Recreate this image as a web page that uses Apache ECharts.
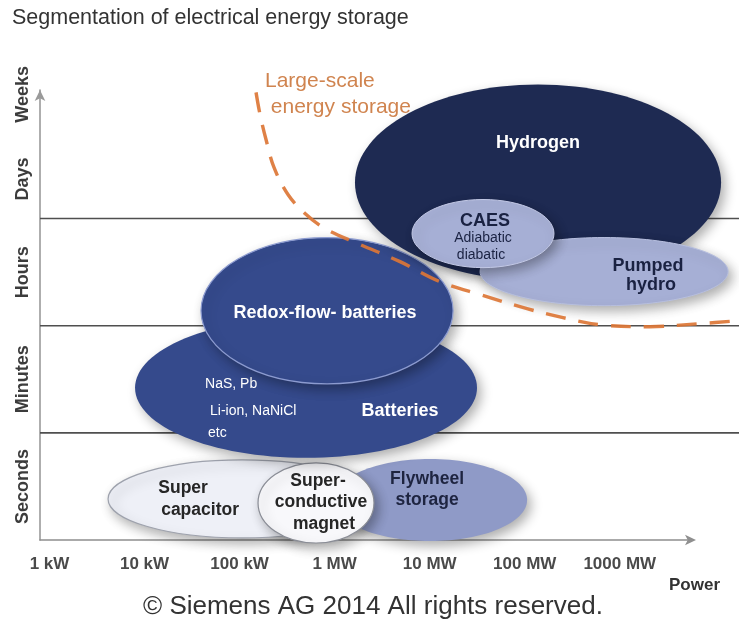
<!DOCTYPE html>
<html>
<head>
<meta charset="utf-8">
<script src="https://cdn.jsdelivr.net/npm/echarts@6/dist/echarts.min.js"></script>
<style>
  html, body { margin: 0; padding: 0; background: #ffffff; }
  #chart { width: 739px; height: 623px; }
</style>
</head>
<body>
<div id="chart"></div>
<script>
// Power axis: decades of log10(kW)
const powerTicks = [0, 1, 2, 3, 4, 5, 6];
const powerLabels = ['1 kW', '10 kW', '100 kW', '1 MW', '10 MW', '100 MW', '1000 MW'];

// Discharge-time axis: one band per unit (seconds, minutes, hours, days/weeks)
const timeTicks = [0.5, 1.5, 2.5, 3.37, 4.16];
const timeLabels = ['Seconds', 'Minutes', 'Hours', 'Days', 'Weeks'];
const bandBorders = [1, 2, 3];

// Storage technologies: centre and half-extent in (log power, time band) units
const techNames = ['Super capacitor', 'Flywheel storage', 'Super-conductive magnet', 'Batteries',
                   'Redox-flow-batteries', 'Hydrogen', 'Pumped hydro', 'CAES'];
const centerPower = [2.026, 4.004, 2.804, 2.699, 2.920, 5.140, 5.835, 4.561];
const centerTime  = [0.383, 0.374, 0.346, 1.421, 2.140, 3.336, 2.505, 2.860];
const halfPower   = [1.410, 1.021, 0.610, 1.799, 1.326, 1.926, 1.305, 0.747];
const halfTime    = [0.364, 0.383, 0.374, 0.654, 0.682, 0.916, 0.318, 0.318];
const techLines = [
  ['Super', 'capacitor'],
  ['Flywheel', 'storage'],
  ['Super-', 'conductive', 'magnet'],
  ['NaS, Pb', 'Li-ion, NaNiCl', 'etc', 'Batteries'],
  ['Redox-flow- batteries'],
  ['Hydrogen'],
  ['Pumped', 'hydro'],
  ['CAES', 'Adiabatic', 'diabatic']
];

// Boundary of large-scale energy storage
const boundaryPower = [2.173, 2.215, 2.278, 2.362, 2.509, 2.688, 2.899, 3.246, 3.688, 4.109,
                       4.530, 5.024, 5.403, 5.792, 6.318, 6.844, 7.254];
const boundaryTime  = [4.178, 3.972, 3.738, 3.477, 3.224, 3.047, 2.907, 2.766, 2.598, 2.411,
                       2.290, 2.159, 2.075, 2.009, 1.991, 2.019, 2.047];

// ---- appearance ----
const FONT = 'Liberation Sans, Arial, Helvetica, sans-serif';
const NAVY = '#1e2a52';
const BLUE = '#354a8c';
const LILAC = '#a6afd5';

const techStyle = [
  { fill: '#eef0f7', stroke: '#9ea2ad', lw: 1.2, text: '#262626' },
  { fill: '#8f9ac7', stroke: '#8f9ac7', lw: 0,   text: '#1e2440' },
  { fill: '#f8f8fb', stroke: '#8a8d96', lw: 1.2, text: '#262626' },
  { fill: BLUE,      stroke: BLUE,      lw: 0,   text: '#ffffff' },
  { fill: BLUE,      stroke: '#8c9bd0', lw: 1.2, text: '#ffffff' },
  { fill: NAVY,      stroke: NAVY,      lw: 0,   text: '#ffffff' },
  { fill: LILAC,     stroke: '#b7bfdf', lw: 1,   text: '#1a2242' },
  { fill: LILAC,     stroke: '#c3c9e6', lw: 1,   text: '#1a2242' }
];

// text placement relative to the ellipse centre (px), plus size / weight / alignment
const textLayout = [
  [[-59, -11, 17.5, 'bold', 'center'], [-42, 11, 17.5, 'bold', 'center']],
  [[-3, -21, 17.5, 'bold', 'center'], [-3, 0, 17.5, 'bold', 'center']],
  [[2, -22, 17.5, 'bold', 'center'], [5, -1, 17.5, 'bold', 'center'], [8, 21, 17.5, 'bold', 'center']],
  [[-101, -4, 14, 'normal', 'left'], [-96, 23, 14, 'normal', 'left'], [-98, 45, 14, 'normal', 'left'],
   [94, 23, 18, 'bold', 'center']],
  [[-2, 2, 18, 'bold', 'center']],
  [[0, -40, 18, 'bold', 'center']],
  [[44, -6, 18, 'bold', 'center'], [47, 13, 18, 'bold', 'center']],
  [[2, -13, 18, 'bold', 'center'], [0, 5, 14, 'normal', 'center'], [-2, 22, 14, 'normal', 'center']]
];

const techData = techNames.map((n, i) => [centerPower[i], centerTime[i], halfPower[i], halfTime[i]]);
const boundaryData = boundaryPower.map((p, i) => [p, boundaryTime[i]]);

const X_MIN = -0.1, X_MAX = 6.76;

const chart = echarts.init(document.getElementById('chart'), null, { renderer: 'canvas' });

chart.setOption({
  backgroundColor: '#ffffff',
  animation: false,
  textStyle: { fontFamily: FONT },
  title: [
    {
      text: 'Segmentation of electrical energy storage',
      left: 7, top: 2,
      textStyle: { fontFamily: FONT, fontSize: 21.5, fontWeight: 'normal', color: '#333333' }
    },
    {
      text: '\u00A9 Siemens AG 2014 All rights reserved.',
      left: 138, top: 589,
      textStyle: { fontFamily: FONT, fontSize: 26, fontWeight: 'normal', color: '#333333' }
    }
  ],
  graphic: [
    {
      type: 'text', left: 669, top: 577, z: 10,
      style: { text: 'Power', font: 'bold 17px ' + FONT, fill: '#333333' }
    },
    {
      type: 'text', left: 265, top: 68, z: 0,
      style: { text: 'Large-scale\n energy storage', font: '21px ' + FONT, fill: '#d0844f', lineHeight: 26 }
    }
  ],
  grid: { left: 40, right: 739 - 692, top: 90, bottom: 623 - 540, containLabel: false },
  xAxis: {
    type: 'value', min: X_MIN, max: X_MAX,
    axisLine: { show: true, onZero: false, symbol: ['none', 'arrow'], symbolSize: [8, 11], symbolOffset: [0, 4],
                lineStyle: { color: '#8f8f8f', width: 1.6 } },
    axisTick: { show: false },
    splitLine: { show: false },
    axisLabel: {
      customValues: powerTicks, margin: 16,
      formatter: v => powerLabels[powerTicks.indexOf(Math.round(v))] || '',
      fontFamily: FONT, fontSize: 17, fontWeight: 'bold', color: '#4a4a4a'
    }
  },
  yAxis: {
    type: 'value', min: 0, max: 4.2,
    axisLine: { show: true, onZero: false, symbol: ['none', 'arrow'], symbolSize: [8, 11],
                lineStyle: { color: '#9a9a9a', width: 1.6 } },
    axisTick: { show: false },
    splitLine: { show: false },
    axisLabel: {
      customValues: timeTicks, rotate: 90, margin: 8,
      formatter: v => { const i = timeTicks.findIndex(t => Math.abs(t - v) < 1e-6); return i >= 0 ? timeLabels[i] : ''; },
      fontFamily: FONT, fontSize: 18, fontWeight: 'bold', color: '#3c3c3c'
    }
  },
  series: [
    {
      // band borders stretching across the whole page width
      type: 'custom', z: 1, clip: false, silent: true,
      data: bandBorders.map(b => [X_MIN, b]),
      renderItem: (params, api) => {
        const p = api.coord([api.value(0), api.value(1)]);
        return {
          type: 'line',
          shape: { x1: p[0], y1: p[1], x2: api.getWidth(), y2: p[1] },
          style: { stroke: '#4f4f4f', lineWidth: 1.6 }
        };
      }
    },
    {
      type: 'custom', z: 3, clip: false, silent: true,
      data: techData,
      renderItem: (params, api) => {
        const i = params.dataIndex;
        const c = api.coord([api.value(0), api.value(1)]);
        const s = api.size([api.value(2), api.value(3)]);
        const st = techStyle[i];
        const children = [{
          type: 'ellipse',
          shape: { cx: c[0], cy: c[1], rx: s[0], ry: s[1] },
          style: {
            fill: st.fill, stroke: st.lw ? st.stroke : null, lineWidth: st.lw,
            shadowBlur: 12, shadowColor: 'rgba(0,0,0,0.32)', shadowOffsetX: 4, shadowOffsetY: 5
          }
        }];
        techLines[i].forEach((t, j) => {
          const L = textLayout[i][j];
          children.push({
            type: 'text', x: c[0] + L[0], y: c[1] + L[1],
            style: {
              text: t, fill: st.text,
              font: L[3] + ' ' + L[2] + 'px ' + FONT,
              align: L[4], verticalAlign: 'middle'
            }
          });
        });
        return { type: 'group', children };
      }
    },
    {
      // dashed boundary of large-scale storage, allowed to run past the plot edge
      name: 'Large-scale energy storage',
      type: 'custom', z: 5, clip: false, silent: true,
      data: [0],
      renderItem: (params, api) => {
        const pts = boundaryData.map(d => api.coord(d));
        return {
          type: 'polyline',
          shape: { points: pts, smooth: 0.35 },
          style: { stroke: '#dc7636', lineWidth: 3.4, lineDash: [20, 13], fill: null, opacity: 0.92 }
        };
      }
    }
  ]
});
</script>
</body>
</html>
